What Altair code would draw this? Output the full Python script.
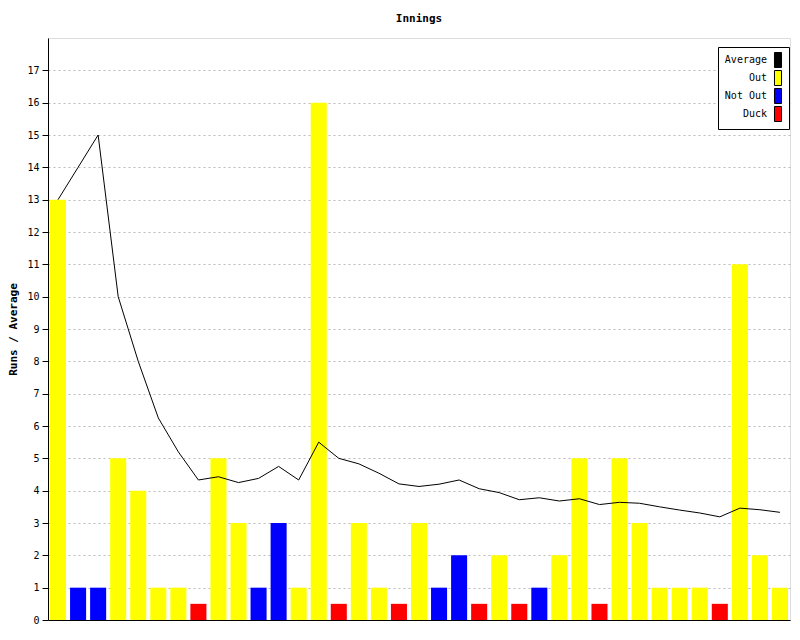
import altair as alt
import pandas as pd

innings = list(range(1, 38))
bar_heights = [13, 1, 1, 5, 4, 1, 1, 0.5, 5, 3, 1, 3, 1, 16, 0.5, 3, 1, 0.5, 3, 1,
               2, 0.5, 2, 0.5, 1, 2, 5, 0.5, 5, 3, 1, 1, 1, 0.5, 11, 2, 1]
bar_types = ["Out", "Not Out", "Not Out", "Out", "Out", "Out", "Out", "Duck", "Out", "Out",
             "Not Out", "Not Out", "Out", "Out", "Duck", "Out", "Out", "Duck", "Out", "Not Out",
             "Not Out", "Duck", "Out", "Duck", "Not Out", "Out", "Out", "Duck", "Out", "Out",
             "Out", "Out", "Out", "Duck", "Out", "Out", "Out"]
averages = [13, 14, 15, 10, 8, 6.25, 5.2, 4.33, 4.43, 4.25, 4.38, 4.75, 4.33, 5.5, 5.0,
            4.83, 4.54, 4.21, 4.13, 4.2, 4.33, 4.06, 3.94, 3.72, 3.78, 3.68, 3.75, 3.57,
            3.64, 3.61, 3.5, 3.4, 3.31, 3.19, 3.46, 3.41, 3.33]

legend_names = ["Average", "Out", "Not Out", "Duck"]
legend_colors = ["#000000", "#FFFF00", "#0000FF", "#FF0000"]
y_ticks = list(range(0, 18))

df = pd.DataFrame({"inn": innings, "runs": bar_heights, "type": bar_types, "avg": averages})

FONT = "DejaVu Sans Mono"

x_enc = alt.X("inn:O", axis=alt.Axis(labels=False, ticks=False, title=None, domainColor="black"),
              scale=alt.Scale(paddingInner=0.2, paddingOuter=0.1))
y_scale = alt.Scale(domain=[0, 18], nice=False)
y_axis = alt.Axis(values=y_ticks, title="Runs / Average", grid=True, labelOverlap=False,
                  gridColor="#bbbbbb", gridDash=[2, 3], tickSize=6, tickColor="black",
                  domainColor="black", labelFont=FONT, labelFontSize=10,
                  labelColor="black", labelPadding=3, titleFont=FONT,
                  titleFontSize=11, titleFontWeight="bold", titleColor="black",
                  titlePadding=8)

bars = alt.Chart(df).mark_bar().encode(
    x=x_enc,
    y=alt.Y("runs:Q", scale=y_scale, axis=y_axis),
    color=alt.Color("type:N", scale=alt.Scale(domain=legend_names, range=legend_colors),
                    legend=alt.Legend(title=None, orient="none", legendX=670, legendY=9,
                                      labelFont=FONT, labelFontSize=10, labelColor="black",
                                      labelAlign="right", labelOffset={"expr": "-19"},
                                      symbolOffset=47,
                                      symbolType="M-0.47,-1H0.47V1H-0.47Z", symbolSize=225,
                                      symbolStrokeColor="black", symbolStrokeWidth=1,
                                      symbolOpacity=1, rowPadding={"expr": "-6"},
                                      fillColor="white", strokeColor="black", padding=5)),
)

line = alt.Chart(df).mark_line(color="black", strokeWidth=1).encode(
    x=x_enc,
    y=alt.Y("avg:Q", scale=y_scale, axis=y_axis),
)

chart = alt.layer(bars, line).properties(
    width=742, height=582,
    title=alt.Title("Innings", font=FONT, fontSize=11, fontWeight="bold", color="black", offset=14),
    autosize=alt.AutoSizeParams(type="none"),
    padding={"left": 40, "top": 30, "right": 2, "bottom": 12},
).configure_view(stroke="black", strokeWidth=1).configure(background="white")

chart.save("out.html", embed_options={"renderer": "svg", "actions": False})
